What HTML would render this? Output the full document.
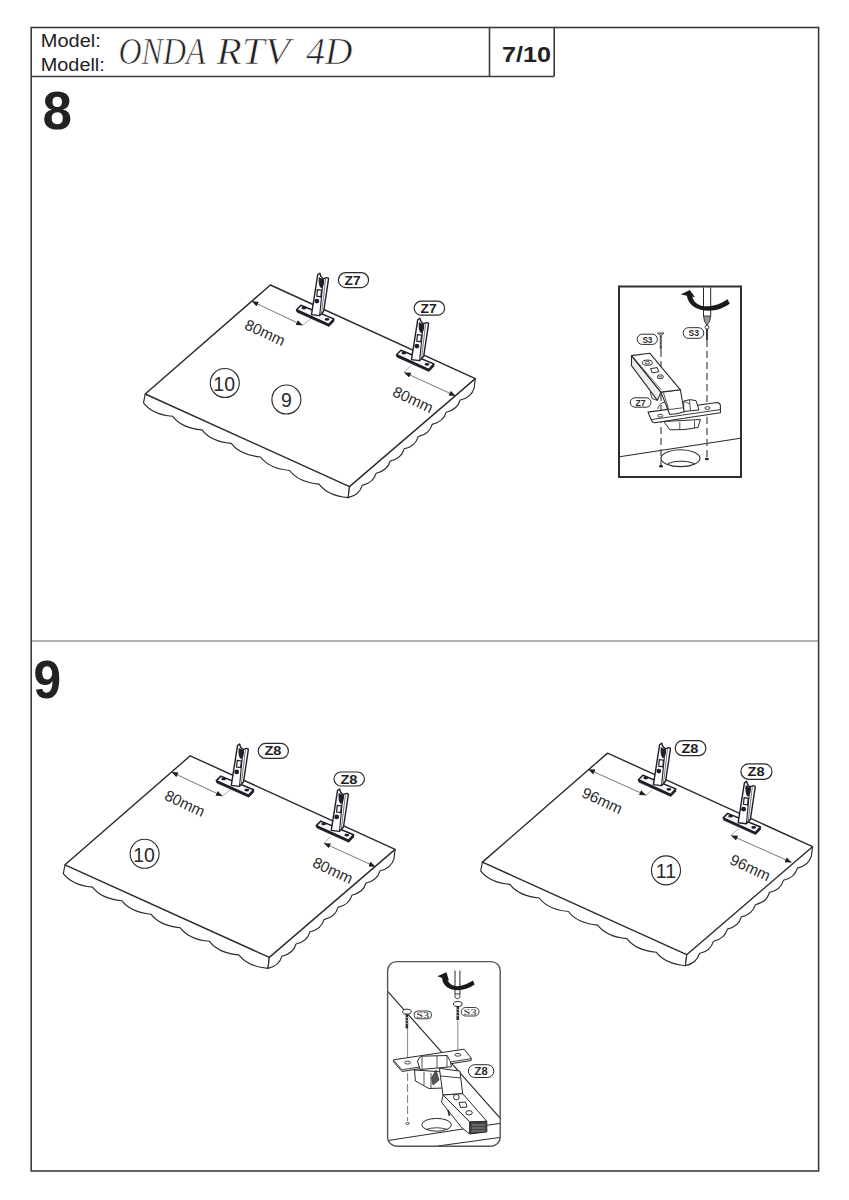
<!DOCTYPE html>
<html><head><meta charset="utf-8">
<style>
html,body{margin:0;padding:0;background:#fff;width:849px;height:1200px;overflow:hidden}
svg{position:absolute;left:0;top:0}
text{font-family:"Liberation Sans",sans-serif}
</style></head>
<body>
<svg width="849" height="1200" viewBox="0 0 849 1200">
<defs>
<symbol id="slab" overflow="visible">
<path d="M145.2 394.0 L143.5 402.8 Q152.3 414.4 172.7 416.3 Q181.5 428.0 202.0 429.9 Q210.8 441.5 231.2 443.4 Q240.0 455.1 260.5 457.0 Q269.2 468.6 289.7 470.5 Q298.5 482.2 319.0 484.1 Q327.7 495.7 348.2 497.6 L349.5 486.6" fill="#fff" stroke="#2a2a2a" stroke-width="1.15" stroke-linejoin="round"/>
<path d="M349.5 486.6 L348.2 497.6 Q359.4 495.2 362.2 485.4 Q373.4 483.0 376.2 473.2 Q387.4 470.8 390.2 461.0 Q401.4 458.6 404.2 448.8 Q415.4 446.4 418.2 436.6 Q429.4 434.2 432.2 424.4 Q443.4 422.0 446.2 412.2 Q457.4 409.8 460.2 400.0 Q471.4 397.6 474.2 387.8 L475.3 378.6" fill="#fff" stroke="#2a2a2a" stroke-width="1.15" stroke-linejoin="round"/>
<path d="M270.4 285.0 L475.3 378.6 L349.5 486.6 L145.2 394.0 Z" fill="#fff" stroke="#2a2a2a" stroke-width="1.4" stroke-linejoin="round"/>
</symbol>
<symbol id="brk" overflow="visible">
<path d="M301 305.3 L333.8 318.9 L328.7 324.5 L296.5 309.8Z" fill="#f6f6f6" stroke="#1e1e2a" stroke-width="1.5" stroke-linejoin="round"/>
<path d="M296.5 309.8 L328.7 324.5 L333.8 318.9 L334 321.2 L329 326.4 L296.9 312Z" fill="#1e1e2a" stroke="#1e1e2a" stroke-width="0.8" stroke-linejoin="round"/>
<ellipse cx="303.9" cy="308.1" rx="2.4" ry="1.4" fill="#1e1e2a"/>
<ellipse cx="327" cy="319.3" rx="2.4" ry="1.4" fill="#1e1e2a"/>
<path d="M311.5 314.6 L317.7 274.8 L319.8 273.2 L321 276.6 L323.2 278.8 L326.6 277.6 L328.4 278.2 L328.4 279.8 L323.7 311.2 L319.7 315.6Z" fill="#fff" stroke="#1e1e2a" stroke-width="1.4" stroke-linejoin="round"/>
<path d="M319.7 315.4 L323.2 279.2" stroke="#1e1e2a" stroke-width="1.1"/>
<path d="M321.6 313 L325.6 279" stroke="#1e1e2a" stroke-width="0.6"/>
<path d="M319.4 277.4 Q318.6 285.5 321.2 287.6 Q323.8 285.8 323.6 279.4" fill="#1e1e2a" stroke="#1e1e2a" stroke-width="1.1"/>
<path d="M317.4 289.6 L321.6 290.2 L320.8 296.8 L316.8 296.2Z" fill="#fff" stroke="#1e1e2a" stroke-width="1.2"/>
<circle cx="316.9" cy="301.1" r="2.4" fill="#1e1e2a"/>
</symbol>
<marker id="ah" viewBox="0 0 10 8" refX="10" refY="4" markerWidth="7" markerHeight="5.2" markerUnits="userSpaceOnUse" orient="auto-start-reverse"><path d="M0 0L10 4L0 8Z" fill="#1e1e1e"/></marker>
</defs>
<!-- frame -->
<path d="M31 641H818.5" stroke="#9a9a9a" stroke-width="1.6"/>
<g fill="none" stroke="#3c3c3c" stroke-width="1.6">
<rect x="31.2" y="27.5" width="787.4" height="1143.5"/>
<path d="M31 76.5H554.2M489.5 27.5V76.5M554.2 27.5V76.5"/>
</g>
<!-- header text -->
<text x="40.8" y="47" font-size="17.6" fill="#222" textLength="60" lengthAdjust="spacingAndGlyphs">Model:</text>
<text x="40.8" y="71.2" font-size="17.6" fill="#222" textLength="64" lengthAdjust="spacingAndGlyphs">Modell:</text>
<g style="font-family:'Liberation Serif',serif;font-style:italic" font-size="37" fill="#222">
<text x="118.5" y="64.2" textLength="87" stroke="#fff" stroke-width="0.7" lengthAdjust="spacingAndGlyphs" style="font-family:'Liberation Serif',serif;font-style:italic">ONDA</text>
<text x="216.5" y="64.2" textLength="73.5" stroke="#fff" stroke-width="0.7" lengthAdjust="spacingAndGlyphs" style="font-family:'Liberation Serif',serif;font-style:italic">RTV</text>
<text x="306" y="64.2" textLength="46.5" stroke="#fff" stroke-width="0.7" lengthAdjust="spacingAndGlyphs" style="font-family:'Liberation Serif',serif;font-style:italic">4D</text>
</g>
<text x="502" y="62.2" font-size="22.2" font-weight="bold" fill="#222" textLength="49" lengthAdjust="spacingAndGlyphs">7/10</text>
<text x="42.5" y="129.2" font-size="53" font-weight="bold" fill="#222">8</text>
<text x="33.5" y="697.6" font-size="53" font-weight="bold" fill="#222" textLength="27.6" lengthAdjust="spacingAndGlyphs">9</text>
<!-- board 1 -->
<g id="b1">
<use href="#slab"/>
<use href="#brk"/>
<use href="#brk" transform="translate(100 45)"/>
<path d="M251.8 301.3 L302.7 325.3" stroke="#555" stroke-width="0.8" marker-start="url(#ah)" marker-end="url(#ah)"/>
<path d="M302.7 325.3 L310.7 318.7" stroke="#888" stroke-width="0.7"/>
<path d="M404.2 372.4 L455.6 395.9" stroke="#555" stroke-width="0.8" marker-start="url(#ah)" marker-end="url(#ah)"/>
<path d="M404.2 372.4 L411 365.5" stroke="#888" stroke-width="0.7"/>
<text x="243.6" y="328.4" font-size="15.3" fill="#2a2a2a" transform="rotate(25 243.6 328.4)">80mm</text>
<text x="391.6" y="395.4" font-size="15.3" fill="#2a2a2a" transform="rotate(25 391.6 395.4)">80mm</text>
<rect x="338.4" y="272.6" width="30.2" height="15" rx="7.5" fill="#fff" stroke="#2a2a2a" stroke-width="1.2"/>
<text x="344.6" y="284.6" font-size="12.5" font-weight="bold" fill="#1e1e1e" textLength="16" lengthAdjust="spacingAndGlyphs">Z7</text>
<rect x="414.2" y="301.2" width="30.4" height="14" rx="7" fill="#fff" stroke="#2a2a2a" stroke-width="1.2"/>
<text x="420.6" y="312.8" font-size="12.5" font-weight="bold" fill="#1e1e1e" textLength="16" lengthAdjust="spacingAndGlyphs">Z7</text>
<circle cx="224.8" cy="383" r="14.5" fill="none" stroke="#2a2a2a" stroke-width="1.1"/>
<text x="224.8" y="391" font-size="19.5" fill="#2a2a2a" text-anchor="middle" dx="-0.6">10</text>
<circle cx="286.4" cy="399.5" r="14.5" fill="none" stroke="#2a2a2a" stroke-width="1.1"/>
<text x="286.4" y="407.3" font-size="19.5" fill="#2a2a2a" text-anchor="middle">9</text>
</g>
<!-- board 2 -->
<g transform="translate(-80.2 470.8)">
<use href="#slab"/>
<use href="#brk"/>
<use href="#brk" transform="translate(100 45)"/>
<path d="M251.8 301.3 L302.7 325.3" stroke="#555" stroke-width="0.8" marker-start="url(#ah)" marker-end="url(#ah)"/>
<path d="M302.7 325.3 L310.7 318.7" stroke="#888" stroke-width="0.7"/>
<path d="M404.2 372.4 L455.6 395.9" stroke="#555" stroke-width="0.8" marker-start="url(#ah)" marker-end="url(#ah)"/>
<path d="M404.2 372.4 L411 365.5" stroke="#888" stroke-width="0.7"/>
<text x="243.6" y="328.4" font-size="15.3" fill="#2a2a2a" transform="rotate(25 243.6 328.4)">80mm</text>
<text x="391.6" y="395.4" font-size="15.3" fill="#2a2a2a" transform="rotate(25 391.6 395.4)">80mm</text>
<rect x="338.4" y="272.6" width="30.2" height="15" rx="7.5" fill="#fff" stroke="#2a2a2a" stroke-width="1.2"/>
<text x="344.6" y="284.6" font-size="12.5" font-weight="bold" fill="#1e1e1e" textLength="17" lengthAdjust="spacingAndGlyphs">Z8</text>
<rect x="414.2" y="301.2" width="30.4" height="14" rx="7" fill="#fff" stroke="#2a2a2a" stroke-width="1.2"/>
<text x="420.6" y="312.8" font-size="12.5" font-weight="bold" fill="#1e1e1e" textLength="17" lengthAdjust="spacingAndGlyphs">Z8</text>
<circle cx="224.8" cy="383" r="14.5" fill="none" stroke="#2a2a2a" stroke-width="1.1"/>
<text x="224.8" y="391" font-size="19.5" fill="#2a2a2a" text-anchor="middle" dx="-0.6">10</text>
</g>
<!-- board 3 -->
<g transform="translate(337.2 468.1)">
<use href="#slab"/>
<use href="#brk" transform="translate(4.7 1.9)"/>
<use href="#brk" transform="translate(89.5 40)"/>
<path d="M251.1 301.2 L308.8 327.2" stroke="#555" stroke-width="0.8" marker-start="url(#ah)" marker-end="url(#ah)"/>
<path d="M308.8 327.2 L315.2 321.4" stroke="#888" stroke-width="0.7"/>
<path d="M393.9 367.3 L454.4 394.3" stroke="#555" stroke-width="0.8" marker-start="url(#ah)" marker-end="url(#ah)"/>
<path d="M393.9 367.3 L401.4 360.4" stroke="#888" stroke-width="0.7"/>
<text x="243.6" y="328.4" font-size="15.3" fill="#2a2a2a" transform="rotate(25 243.6 328.4)">96mm</text>
<text x="391.6" y="395.4" font-size="15.3" fill="#2a2a2a" transform="rotate(25 391.6 395.4)">96mm</text>
<rect x="338" y="272.6" width="30.7" height="15" rx="7.5" fill="#fff" stroke="#2a2a2a" stroke-width="1.2"/>
<text x="344.2" y="284.6" font-size="12.5" font-weight="bold" fill="#1e1e1e" textLength="17" lengthAdjust="spacingAndGlyphs">Z8</text>
<rect x="403.7" y="295.7" width="31.1" height="15.5" rx="7.7" fill="#fff" stroke="#2a2a2a" stroke-width="1.2"/>
<text x="410.4" y="307.8" font-size="12.5" font-weight="bold" fill="#1e1e1e" textLength="17" lengthAdjust="spacingAndGlyphs">Z8</text>
<circle cx="328.8" cy="402.3" r="14.5" fill="none" stroke="#2a2a2a" stroke-width="1.1"/>
<text x="328.8" y="410.1" font-size="19.5" fill="#2a2a2a" text-anchor="middle">11</text>
</g>
<!-- inset 1 -->
<g id="ins1">
<rect x="619" y="286.5" width="122" height="190.5" fill="#fff" stroke="#2e2e2e" stroke-width="2"/>
<!-- floor -->
<path d="M619.5 456.7 L740.5 438.3" stroke="#2a2a2a" stroke-width="1.1"/>
<ellipse cx="680.5" cy="458.2" rx="19.5" ry="8.4" fill="#fff" stroke="#2a2a2a" stroke-width="1.1"/>
<path d="M667.8 463.6 Q680.5 458.6 694.6 463.6" fill="none" stroke="#2a2a2a" stroke-width="1"/>
<ellipse cx="661" cy="466.2" rx="2" ry="1.2" fill="#1e1e1e"/>
<ellipse cx="706.9" cy="459" rx="2" ry="1.2" fill="#1e1e1e"/>
<!-- dashed -->
<path d="M661 350 V465 M707 340 V458" stroke="#555" stroke-width="1.3" stroke-dasharray="7 4"/>
<!-- screwdriver -->
<path d="M703.5 287.5 V316 M710.7 287.5 V316" stroke="#2a2a2a" stroke-width="1"/>
<path d="M703.5 316 L710.7 316 L709.6 321.5 L707.1 325 L704.6 321.5Z" fill="#999" stroke="#2a2a2a" stroke-width="0.9"/>
<circle cx="707" cy="327.2" r="1.9" fill="#fff" stroke="#2a2a2a" stroke-width="0.9"/>
<path d="M707 329 V340" stroke="#2a2a2a" stroke-width="1.8"/>
<path d="M657.8 333 Q660.8 337.5 663.8 333 Z" fill="#fff" stroke="#2a2a2a" stroke-width="1"/>
<path d="M660.8 335.5 V349.5" stroke="#444" stroke-width="2"/>
<path d="M659.8 338 L661.8 339 M659.8 341 L661.8 342 M659.8 344 L661.8 345" stroke="#ddd" stroke-width="0.5"/>
<!-- rotation arrow -->
<path d="M727.5 299.3 C714 308.5 694 310.5 691.8 294.2 L686.6 294.8 C689 313.5 716 315 729.8 303.6 Z" fill="#1a1a1a"/>
<path d="M680.7 294.4 L689.8 290 L695 297.2Z" fill="#1a1a1a"/>
<!-- S3 labels -->
<rect x="637.2" y="334.2" width="20.2" height="10.2" rx="5" fill="#fff" stroke="#2a2a2a" stroke-width="1"/>
<text x="642.4" y="342.6" font-size="9" font-weight="bold" fill="#2a2a2a" textLength="10" lengthAdjust="spacingAndGlyphs">S3</text>
<rect x="683.2" y="327.7" width="20.6" height="10.6" rx="5.2" fill="#fff" stroke="#2a2a2a" stroke-width="1"/>
<text x="688.5" y="336.4" font-size="9" font-weight="bold" fill="#2a2a2a" textLength="10.5" lengthAdjust="spacingAndGlyphs">S3</text>
<!-- hinge cup below plate -->
<path d="M663.9 421.5 L669.8 429.8 Q684 430.5 698 427.5 L700.4 419.5Z" fill="#fff" stroke="#2a2a2a" stroke-width="1" stroke-linejoin="round"/>
<path d="M679.8 422 V430 M694.5 420.5 V428" stroke="#2a2a2a" stroke-width="0.8"/>
<!-- mounting plate -->
<path d="M648 412.1 L717.2 402.5 Q720 402.8 720.4 405.5 L720.4 412.7 L654.4 422.7 Q652.4 422.5 651.5 420.5 Z" fill="#fff" stroke="#2a2a2a" stroke-width="1.1" stroke-linejoin="round"/>
<path d="M651.2 419.6 L720.2 409.6" stroke="#2a2a2a" stroke-width="0.9"/>
<ellipse cx="660.3" cy="415.7" rx="2.5" ry="1.4" fill="#fff" stroke="#2a2a2a" stroke-width="0.9"/>
<ellipse cx="707.4" cy="408" rx="2.5" ry="1.4" fill="#fff" stroke="#2a2a2a" stroke-width="0.9"/>
<!-- boss -->
<path d="M683.5 411.5 L683.9 401 Q690 398.5 696 400.6 L699 410Z" fill="#fff" stroke="#2a2a2a" stroke-width="1" stroke-linejoin="round"/>
<path d="M689.5 400 L690.5 410.5 M683.9 401 L689.5 404" stroke="#2a2a2a" stroke-width="0.8"/>
<path d="M657.6 409 Q659.5 403 664.5 402.2" fill="none" stroke="#2a2a2a" stroke-width="0.9"/>
<!-- knuckle -->
<path d="M660.9 392.1 L680.4 389.8 L684.2 411.8 Q677 414.5 669.8 414.5 Z" fill="#fff" stroke="#2a2a2a" stroke-width="1.1" stroke-linejoin="round"/>
<path d="M663.5 393 L668.8 409.5 L683 407.8" fill="none" stroke="#2a2a2a" stroke-width="0.8"/>
<!-- arm -->
<path d="M631.5 355.6 L631.5 365.6 L657.4 400.4 L660.9 392.1Z" fill="#eee" stroke="#2a2a2a" stroke-width="1.1" stroke-linejoin="round"/>
<path d="M631.5 355.6 L649.7 353.2 L680.4 389.8 L660.9 392.1Z" fill="#fff" stroke="#2a2a2a" stroke-width="1.1" stroke-linejoin="round"/>
<path d="M633.5 357.6 L661.5 390" stroke="#2a2a2a" stroke-width="0.6"/>
<path d="M650.3 392.1 L652 398.5 L657.4 400.4" fill="none" stroke="#2a2a2a" stroke-width="0.9"/>
<ellipse cx="647.4" cy="362.7" rx="5" ry="2.6" fill="#fff" stroke="#2a2a2a" stroke-width="1"/>
<ellipse cx="647.4" cy="362.7" rx="2.2" ry="1.3" fill="#fff" stroke="#2a2a2a" stroke-width="0.8"/>
<path d="M650.6 368.6 L657.2 367.6 L658.8 371.8 L652.2 372.8Z" fill="#fff" stroke="#2a2a2a" stroke-width="1"/>
<ellipse cx="660.3" cy="376.8" rx="3" ry="2" fill="#fff" stroke="#2a2a2a" stroke-width="1"/>
<path d="M658.6 376.8 H662" stroke="#2a2a2a" stroke-width="0.8"/>
<!-- Z7 label -->
<rect x="630.3" y="397.8" width="20.7" height="9.4" rx="4.7" fill="#fff" stroke="#2a2a2a" stroke-width="1"/>
<text x="635.5" y="405.6" font-size="8.5" font-weight="bold" fill="#2a2a2a" textLength="10" lengthAdjust="spacingAndGlyphs">Z7</text>
</g>
<!-- inset 2 -->
<g id="ins2">
<defs><clipPath id="c2"><rect x="387.6" y="961.6" width="112.6" height="184.6" rx="9"/></clipPath></defs>
<rect x="387.6" y="961.6" width="112.6" height="184.6" rx="9" fill="#fff"/>
<g clip-path="url(#c2)">
<path d="M386 989.5 L501 1119" stroke="#2a2a2a" stroke-width="1.15"/>
<path d="M386 1140.8 L501 1123.2 M438 1146 L501 1137.3" stroke="#2a2a2a" stroke-width="1"/>
</g>
<rect x="387.6" y="961.6" width="112.6" height="184.6" rx="9" fill="none" stroke="#555" stroke-width="1.4"/>
<!-- hole -->
<ellipse cx="436.6" cy="1124.8" rx="14.8" ry="6.4" fill="#fff" stroke="#2a2a2a" stroke-width="1"/>
<path d="M426 1129.5 Q436.6 1126 447.5 1129.5" fill="none" stroke="#2a2a2a" stroke-width="0.9"/>
<ellipse cx="407.6" cy="1123.4" rx="1.8" ry="1" fill="#fff" stroke="#2a2a2a" stroke-width="0.8"/>
<!-- dashed -->
<path d="M407.6 1029 V1058 M457.8 1021 V1052" stroke="#777" stroke-width="0.9"/>
<path d="M407.6 1073 V1121" stroke="#666" stroke-width="0.9" stroke-dasharray="8 3"/>
<!-- screwdriver -->
<path d="M455 970.5 V994 M459.9 970.5 V994" stroke="#2a2a2a" stroke-width="1"/>
<path d="M455 994 L455 997 Q457.4 1000.5 459.9 997 L459.9 994Z" fill="#fff" stroke="#2a2a2a" stroke-width="0.9"/>
<!-- rotation arrow -->
<path d="M473 980.6 C462 988 449 989 446.8 977.6 L442 978.2 C443.5 992 462 993.5 474.6 984.6 Z" fill="#1a1a1a"/>
<path d="M437.3 976.3 L446.4 972.3 L449 980.4Z" fill="#1a1a1a"/>
<!-- screws -->
<ellipse cx="457.8" cy="1004" rx="4.3" ry="2.5" fill="#fff" stroke="#2a2a2a" stroke-width="1"/>
<path d="M457.8 1006.5 V1020" stroke="#2a2a2a" stroke-width="2.6"/>
<path d="M456.4 1009 L459.2 1010 M456.4 1012 L459.2 1013 M456.4 1015 L459.2 1016" stroke="#fff" stroke-width="0.6"/>
<ellipse cx="406.9" cy="1011.7" rx="4.3" ry="2.5" fill="#fff" stroke="#2a2a2a" stroke-width="1"/>
<path d="M406.9 1014.2 V1028.5" stroke="#2a2a2a" stroke-width="2.6"/>
<path d="M405.5 1017 L408.3 1018 M405.5 1020 L408.3 1021 M405.5 1023 L408.3 1024" stroke="#fff" stroke-width="0.6"/>
<!-- S3 labels -->
<rect x="414" y="1011" width="17.6" height="7.8" rx="3.9" fill="#fff" stroke="#2a2a2a" stroke-width="0.9"/>
<text x="416.2" y="1017.6" font-size="8.5" fill="#2a2a2a" style="font-family:'Liberation Serif',serif" textLength="13" lengthAdjust="spacingAndGlyphs">S3</text>
<rect x="461.3" y="1007.5" width="17.7" height="8.5" rx="4.2" fill="#fff" stroke="#2a2a2a" stroke-width="0.9"/>
<text x="463.6" y="1014.6" font-size="8.5" fill="#2a2a2a" style="font-family:'Liberation Serif',serif" textLength="13" lengthAdjust="spacingAndGlyphs">S3</text>
<!-- cup body under plate -->
<path d="M414.5 1070 L415.4 1081 L429 1088.5 L444 1088 L444 1072Z" fill="#fff" stroke="#2a2a2a" stroke-width="1" stroke-linejoin="round"/>
<path d="M424 1072 V1085 M431 1073 V1088" stroke="#2a2a2a" stroke-width="0.8"/>
<!-- plate -->
<path d="M393.5 1059.8 L464.2 1049.2 L471.2 1058 L471.2 1060.5 L402 1071.5 L393.5 1061.8Z" fill="#fff" stroke="#2a2a2a" stroke-width="1" stroke-linejoin="round"/>
<path d="M393.5 1060.2 L402 1069.8 L471 1058.7" fill="none" stroke="#2a2a2a" stroke-width="0.9"/>
<path d="M417.5 1061 Q419 1056.5 422 1056.2 L447.2 1055.5 Q451.5 1062 451.4 1066.8 L420 1069.5Z" fill="#fff" stroke="#2a2a2a" stroke-width="1"/>
<path d="M422 1057 V1069 M437 1056 V1068 M447 1056 V1067" stroke="#2a2a2a" stroke-width="0.8"/>
<ellipse cx="407.6" cy="1062.6" rx="3" ry="1.4" fill="#fff" stroke="#2a2a2a" stroke-width="0.9"/>
<ellipse cx="457.8" cy="1054.8" rx="3" ry="1.4" fill="#fff" stroke="#2a2a2a" stroke-width="0.9"/>
<!-- knuckle -->
<path d="M439.4 1068.3 L459.9 1071.1 L462.7 1093.7 L443 1095Z" fill="#fff" stroke="#2a2a2a" stroke-width="1" stroke-linejoin="round"/>
<path d="M441 1076 L460.8 1078" stroke="#2a2a2a" stroke-width="0.9"/>
<path d="M431.5 1078 L436 1070 L439 1080 L433 1085Z" fill="#555" stroke="#2a2a2a" stroke-width="0.7"/>
<!-- arm -->
<path d="M443 1095 L462.7 1093.7 L486.8 1121.3 L469.8 1122Z" fill="#fff" stroke="#2a2a2a" stroke-width="1" stroke-linejoin="round"/>
<path d="M443 1095 L441.5 1102.2 L462 1128 L469.8 1134 L469.8 1122Z" fill="#fafafa" stroke="#2a2a2a" stroke-width="1" stroke-linejoin="round"/>
<path d="M469.8 1122 L486.8 1121.3 L486.8 1131.9 L469.8 1134Z" fill="#444" stroke="#2a2a2a" stroke-width="1"/>
<path d="M472 1125 H485 M472 1128 H485 M472 1131 H485" stroke="#bbb" stroke-width="0.6"/>
<path d="M448 1110 L449.5 1116" stroke="#2a2a2a" stroke-width="1.5"/>
<circle cx="456.4" cy="1097.2" r="2.8" fill="#fff" stroke="#2a2a2a" stroke-width="1"/>
<path d="M459 1102.5 L465.5 1102 L467 1107 L460.5 1107.5Z" fill="#fff" stroke="#2a2a2a" stroke-width="1"/>
<ellipse cx="469.1" cy="1112.8" rx="3.2" ry="2.2" fill="#fff" stroke="#2a2a2a" stroke-width="1"/>
<!-- Z8 label -->
<rect x="468.4" y="1064.7" width="25.4" height="12.8" rx="6.4" fill="#fff" stroke="#2a2a2a" stroke-width="1"/>
<text x="474.6" y="1075" font-size="11" font-weight="bold" fill="#2a2a2a" textLength="13" lengthAdjust="spacingAndGlyphs">Z8</text>
</g>
</svg>
</body></html>
